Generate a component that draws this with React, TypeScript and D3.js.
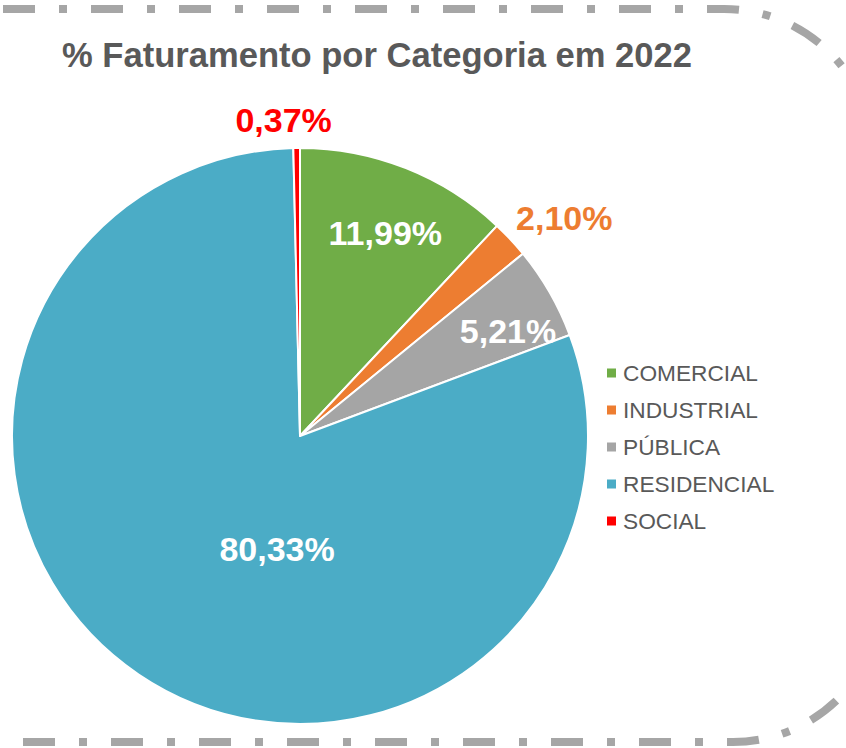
import React from "react";
import * as d3 from "d3";

const categories = ["COMERCIAL", "INDUSTRIAL", "PÚBLICA", "RESIDENCIAL", "SOCIAL"];
const values = [11.99, 2.1, 5.21, 80.33, 0.37];
const colors = ["#70AD47", "#ED7D31", "#A5A5A5", "#4BACC6", "#FF0000"];
const title = "% Faturamento por Categoria em 2022";

// label layout: [angle offset in degrees from slice mid angle, radius factor, inside?]
const labelLayout: [number, number, boolean][] = [
  [1.2, 0.765, true],
  [3.5, 1.19, false],
  [3.0, 0.81, true],
  [-22.6, 0.4, true],
  [-2.3, 1.1, false],
];

const W = 846;
const H = 748;
const CX = 300;
const CY = 436;
const R = 288;

const ptLocale = d3.formatLocale({
  decimal: ",",
  thousands: ".",
  grouping: [3],
  currency: ["R$", ""],
});
const fmt = ptLocale.format(".2f");

export default function App() {
  const pie = d3.pie<number>().sort(null).value((d) => d);
  const arcs = pie(values);
  const arcGen = d3.arc<d3.PieArcDatum<number>>().innerRadius(0).outerRadius(R);

  const font = "'Liberation Sans', Arial, sans-serif";
  const legendY = d3.scalePoint<string>().domain(categories).range([373, 521]);

  return (
    <svg
      width={W}
      height={H}
      style={{ position: "absolute", left: 0, top: 0, background: "#fff" }}
      fontFamily={font}
    >
      {/* dashed rounded border */}
      <g fill="none" stroke="#A6A6A6" strokeWidth={8} strokeDasharray="32 24 8 24">
        <path d="M -85 9 H 724 A 150 150 0 0 1 874 159 V 420" />
        <path d="M -65 742 H 733 A 150 150 0 0 0 883 592 V 420" />
      </g>

      <text
        x={377}
        y={67}
        textAnchor="middle"
        fontSize={34.5}
        fontWeight="bold"
        fill="#595959"
        textLength={630}
        lengthAdjust="spacingAndGlyphs"
      >
        {title}
      </text>

      <g transform={`translate(${CX},${CY})`}>
        {arcs.map((a, i) => (
          <path key={i} d={arcGen(a) || ""} fill={colors[i]} stroke="#fff" strokeWidth={2} strokeLinejoin="round" />
        ))}
        {arcs.map((a, i) => {
          const [dAng, f, inside] = labelLayout[i];
          const mid = (a.startAngle + a.endAngle) / 2 + (dAng * Math.PI) / 180;
          const x = Math.sin(mid) * R * f;
          const y = -Math.cos(mid) * R * f;
          return (
            <text
              key={"l" + i}
              x={x}
              y={y}
              dy="0.36em"
              textAnchor="middle"
              fontSize={34}
              fontWeight="bold"
              fill={inside ? "#FFFFFF" : colors[i]}
            >
              {fmt(values[i]) + "%"}
            </text>
          );
        })}
      </g>

      <g>
        {categories.map((c, i) => (
          <g key={c} transform={`translate(0,${legendY(c)})`}>
            <rect x={607} y={-4.5} width={9} height={9} fill={colors[i]} />
            <text x={623} y={0} dy="0.36em" fontSize={22.7} fill="#595959">
              {c}
            </text>
          </g>
        ))}
      </g>
    </svg>
  );
}
